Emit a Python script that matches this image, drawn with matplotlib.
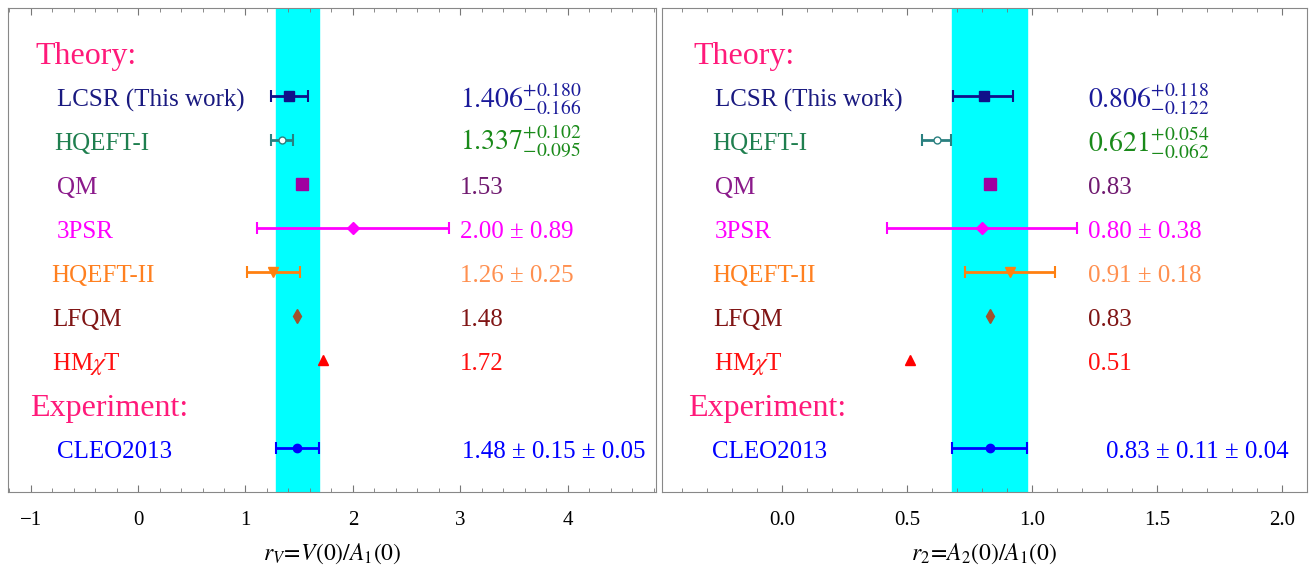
import matplotlib
matplotlib.use("Agg")
import matplotlib.pyplot as plt
import matplotlib.transforms as mtransforms

plt.rcParams['font.family'] = ['Liberation Serif', 'DejaVu Serif']
plt.rcParams['mathtext.fontset'] = 'stix'

# data
labels = ["LCSR (This work)", "HQEFT-I", "QM", "3PSR", "HQEFT-II", "LFQM", r"HM$\chi$T", "CLEO2013"]

rv_val = [1.406, 1.337, 1.53, 2.00, 1.26, 1.48, 1.72, 1.48]
rv_lo = [0.166, 0.095, 0.0, 0.89, 0.25, 0.0, 0.0, 0.20]
rv_hi = [0.180, 0.102, 0.0, 0.89, 0.25, 0.0, 0.0, 0.20]
rv_text = [r"$1.406^{+0.180}_{-0.166}$", r"$1.337^{+0.102}_{-0.095}$", "1.53",
           "2.00 ± 0.89", "1.26 ± 0.25", "1.48", "1.72", "1.48 ± 0.15 ± 0.05"]
rv_band = (1.28, 1.68)

r2_val = [0.806, 0.621, 0.83, 0.80, 0.91, 0.83, 0.51, 0.83]
r2_lo = [0.122, 0.062, 0.0, 0.38, 0.18, 0.0, 0.0, 0.15]
r2_hi = [0.118, 0.054, 0.0, 0.38, 0.18, 0.0, 0.0, 0.15]
r2_text = [r"$0.806^{+0.118}_{-0.122}$", r"$0.621^{+0.054}_{-0.062}$", "0.83",
           "0.80 ± 0.38", "0.91 ± 0.18", "0.83", "0.51", "0.83 ± 0.11 ± 0.04"]
r2_band = (0.68, 0.98)

rows = [2, 3, 4, 5, 6, 7, 8, 10]

label_col = ['#1a1a80', '#1f7f4f', '#8b1a8b', '#ff00ff', '#ff8020', '#801515', '#ff1010', '#0000ff']
value_col = ['#1a1a9a', '#1a8a1a', '#701a70', '#ff00ff', '#ff9050', '#801515', '#ff1010', '#0000ff']
mark_col = ['#10108a', '#2a8080', '#a000a0', '#ff00ff', '#ff8010', '#a0522d', '#ff0000', '#0000ff']
marks = ['s', 'o', 's', 'D', 'v', 'd', '^', 'o']
msize = [7, 5, 8, 6, 7, 7, 7, 6]
mfill = [True, False, True, True, True, True, True, True]
has_err = [True, True, False, True, True, False, False, True]
head_col = '#ff1a7a'

fig = plt.figure(figsize=(13.09, 5.69), dpi=100)
ax1 = fig.add_axes([8/1309, 1-492/569, 648/1309, 484/569])
ax2 = fig.add_axes([662/1309, 1-492/569, 645/1309, 484/569])


def draw_panel(ax, vals, lo, hi, texts, band, xlim, major, minor, xlabel,
               head_x, lab_x, val_x, cleo_x, exp_x):
  ax.axvspan(band[0], band[1], color='#00ffff', zorder=0)
  for i in range(len(vals)):
    fc = mark_col[i] if mfill[i] else 'white'
    if has_err[i]:
      ax.errorbar(vals[i], rows[i], xerr=[[lo[i]], [hi[i]]], fmt=marks[i],
                  color=mark_col[i], mfc=fc, mec=mark_col[i], ms=msize[i],
                  elinewidth=2, capsize=4, capthick=1.5, zorder=3)
    else:
      ax.plot(vals[i], rows[i], marks[i], color=mark_col[i], ms=msize[i], zorder=3)
  trans = mtransforms.blended_transform_factory(ax.transAxes, ax.transData)
  ax.text(head_x, 1.1, "Theory:", color=head_col, fontsize=23, va='center', transform=trans)
  ax.text(exp_x, 9.1, "Experiment:", color=head_col, fontsize=23, va='center', transform=trans)
  for i in range(len(labels)):
    ax.text(lab_x[i], rows[i] + 0.1, labels[i], color=label_col[i], fontsize=18,
            va='center', transform=trans)
    vx = cleo_x if i == len(labels) - 1 else val_x
    if texts[i].startswith('$'):
      ax.text(vx, rows[i] + 0.05, texts[i], color=value_col[i], fontsize=20,
              va='center', transform=trans)
    else:
      ax.text(vx, rows[i] + 0.1, texts[i], color=value_col[i], fontsize=18,
              va='center', transform=trans)
  ax.set_xlim(*xlim)
  ax.set_ylim(11, 0)
  ax.set_yticks([])
  ax.set_xticks(major)
  ax.set_xticks(minor, minor=True)
  ax.tick_params(axis='x', which='both', direction='in', top=True, labelsize=15, color='#777777')
  ax.tick_params(axis='x', which='major', length=5)
  ax.tick_params(axis='x', which='minor', length=3)
  ax.tick_params(axis='x', pad=14)
  for s in ax.spines.values():
    s.set_color('#888888')
  ax.set_xlabel(xlabel, fontsize=17, labelpad=8)


lab1 = [0.075, 0.072, 0.075, 0.075, 0.066, 0.068, 0.068, 0.075]
draw_panel(ax1, rv_val, rv_lo, rv_hi, rv_text, rv_band, (-1.21, 4.82),
           [-1, 0, 1, 2, 3, 4], [x / 5.0 for x in range(-6, 25)],
           r"$r_V\!=\!V(0)/A_1(0)$", 0.042, lab1, 0.697, 0.70, 0.034)
ax1.set_xticklabels(["\u22121", "0", "1", "2", "3", "4"])

lab2 = [0.082, 0.078, 0.082, 0.082, 0.078, 0.08, 0.08, 0.078]
draw_panel(ax2, r2_val, r2_lo, r2_hi, r2_text, r2_band, (-0.48, 2.1),
           [0.0, 0.5, 1.0, 1.5, 2.0], [x / 10.0 for x in range(-4, 21)],
           r"$r_2\!=\!A_2(0)/A_1(0)$", 0.048, lab2, 0.66, 0.688, 0.04)
ax2.set_xticklabels(["0.0", "0.5", "1.0", "1.5", "2.0"])

fig.savefig("out.png", dpi=100)
